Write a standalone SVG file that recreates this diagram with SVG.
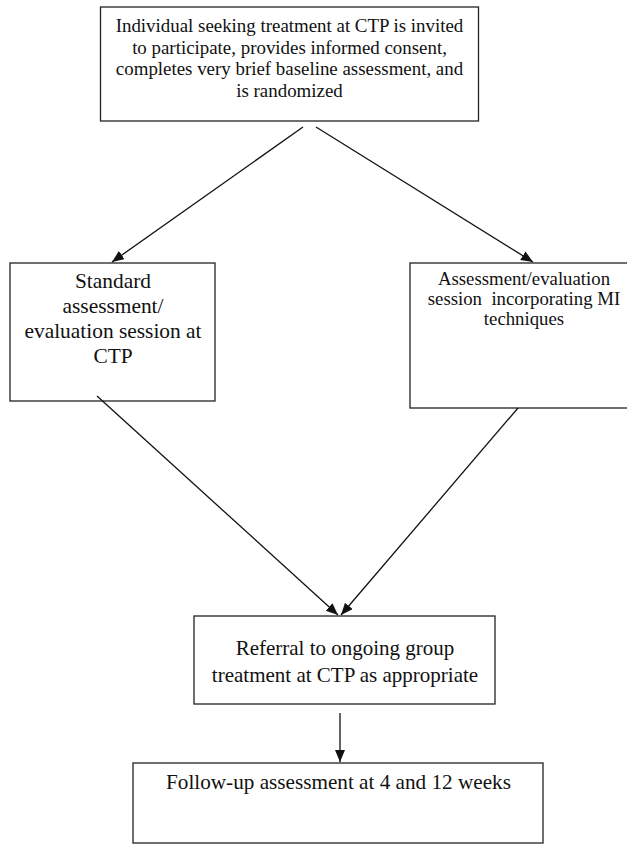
<svg xmlns="http://www.w3.org/2000/svg" width="627" height="844" viewBox="0 0 627 844">
<defs>
<style>
.box{fill:#fff;stroke:#222;stroke-width:1.3}
.t{font-family:"Liberation Serif","Times New Roman",serif;fill:#111;text-anchor:middle}
.c{stroke:#111;stroke-width:1.3;fill:none}
</style>
<marker id="ah" markerUnits="userSpaceOnUse" markerWidth="14" markerHeight="12" refX="12" refY="5" orient="auto">
<path d="M0,0 L12,5 L0,10 Z" fill="#111"/>
</marker>
</defs>
<rect width="627" height="844" fill="#fff"/>
<g id="n1">
<rect class="box" x="100.5" y="7" width="378" height="114"/>
<text class="t" font-size="18.9"><tspan x="289.5" y="32">Individual seeking treatment at CTP is invited</tspan><tspan x="289.5" y="53.5">to participate, provides informed consent,</tspan><tspan x="289.5" y="75">completes very brief baseline assessment, and</tspan><tspan x="289.5" y="96.5">is randomized</tspan></text>
</g>
<g id="n2">
<rect class="box" x="10" y="263" width="205" height="138"/>
<text class="t" font-size="21.4"><tspan x="113" y="288">Standard</tspan><tspan x="113" y="313">assessment/</tspan><tspan x="113" y="338">evaluation session at</tspan><tspan x="113" y="363">CTP</tspan></text>
</g>
<g id="n3">
<rect class="box" x="410" y="263" width="240" height="145"/>
<text class="t" font-size="18.8"><tspan x="524" y="285">Assessment/evaluation</tspan><tspan x="524" y="305" xml:space="preserve">session  incorporating MI</tspan><tspan x="524" y="325">techniques</tspan></text>
</g>
<g id="n4">
<rect class="box" x="194" y="616" width="301" height="88"/>
<text class="t" font-size="21"><tspan x="345" y="655">Referral to ongoing group</tspan><tspan x="345" y="682">treatment at CTP as appropriate</tspan></text>
</g>
<g id="n5">
<rect class="box" x="133" y="763" width="410" height="80"/>
<text class="t" font-size="21.2"><tspan x="338.5" y="789">Follow-up assessment at 4 and 12 weeks</tspan></text>
</g>
<g id="connectors">
<line class="c" x1="303" y1="127" x2="112" y2="262" marker-end="url(#ah)"/>
<line class="c" x1="316" y1="127" x2="533" y2="262" marker-end="url(#ah)"/>
<line class="c" x1="97" y1="396" x2="338" y2="615" marker-end="url(#ah)"/>
<line class="c" x1="518" y1="408" x2="341" y2="615" marker-end="url(#ah)"/>
<line class="c" x1="340" y1="713" x2="340" y2="762" marker-end="url(#ah)"/>
</g>
</svg>
